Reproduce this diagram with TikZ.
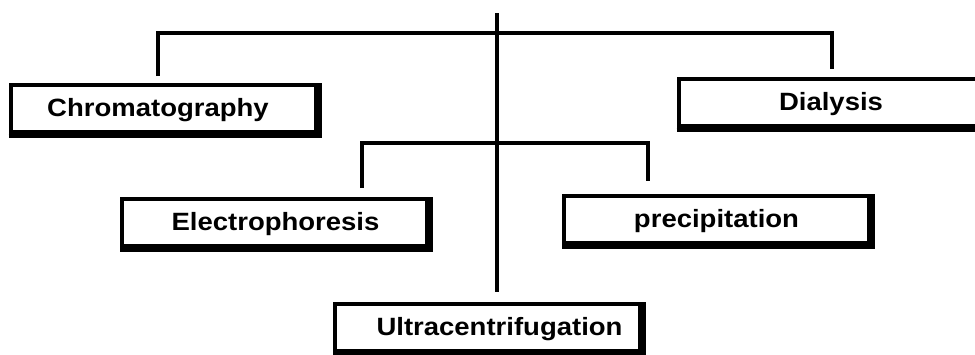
\documentclass[tikz,border=0pt]{standalone}
\usepackage{fontspec}
\newfontfamily\boxfont{Liberation Sans}[FakeStretch=1.1]

\tikzset{
  method/.style={draw, line width=4pt, fill=white, inner sep=0pt,
    minimum width=305pt, minimum height=47pt},
  heavyedge/.style={line width=4pt, line join=miter},
  boxtext/.style={font=\boxfont\bfseries\fontsize{25}{28}\selectfont,
    inner sep=0pt, text height=19pt, text depth=4pt},
  link/.style={line width=4.5pt, line join=miter}
}

\begin{document}
\begin{tikzpicture}[x=1pt, y=-1pt]
  \useasboundingbox (0,0) rectangle (975,354);

  % separation methods
  \node[method, label={[boxtext, xshift=-5pt]center:Chromatography}] (chrom) at (163,108.5) {};
  \node[method, label={[boxtext, xshift=0pt]center:Dialysis}] (dial) at (831,102.5) {};
  \node[method, label={[boxtext, xshift=1pt]center:Electrophoresis}] (elec) at (274.5,222.5) {};
  \node[method, label={[boxtext, xshift=0pt]center:precipitation}] (prec) at (716.5,219.5) {};
  \node[method, label={[boxtext, xshift=12pt]center:Ultracentrifugation}] (ultra) at (487.5,327.5) {};

  % heavier bottom and right edges of each box
  \foreach \n in {chrom,dial,elec,prec,ultra}
    \draw[heavyedge] ([yshift=-2pt]\n.south west)
      -- ([xshift=2pt,yshift=-2pt]\n.south east)
      -- ([xshift=2pt]\n.north east);

  % trunk and branch points
  \coordinate (top) at (497,13);
  \coordinate (l1) at (158,33);
  \coordinate (r1) at (832,33);
  \coordinate (l2) at (362,143);
  \coordinate (r2) at (648,143);

  % central trunk down to the bottom box
  \draw[link, shorten >=10pt] (top) -- (top |- ultra.north);

  % upper bracket
  \draw[link, shorten <=7pt, shorten >=8pt]
    (l1 |- chrom.north) -- (l1) -- (r1) -- (r1 |- dial.north);

  % lower bracket
  \draw[link, shorten <=9pt, shorten >=13pt]
    (l2 |- elec.north) -- (l2) -- (r2) -- (r2 |- prec.north);
\end{tikzpicture}
\end{document}
